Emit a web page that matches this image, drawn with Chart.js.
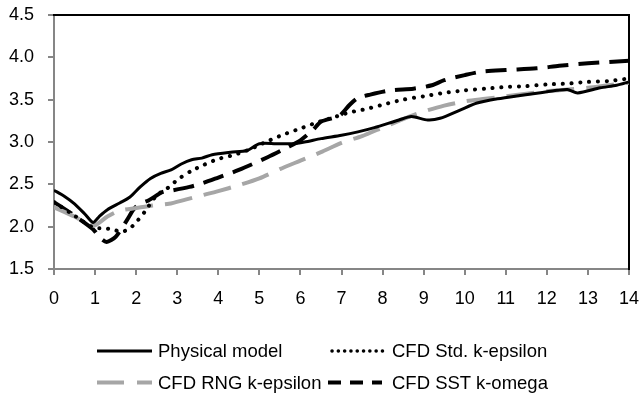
<!DOCTYPE html>
<html><head><meta charset="utf-8">
<script src="https://cdn.jsdelivr.net/npm/chart.js@4"></script>
<style>
html,body{margin:0;padding:0;background:#fff;}
#wrap{position:relative;width:640px;height:394px;overflow:hidden;background:#fff;}
#c{position:absolute;left:0;top:0;}
#lgsvg{position:absolute;left:0;top:0;}
.lg{position:absolute;font-family:"Liberation Sans",Arial,sans-serif;font-size:18.5px;line-height:22px;color:#000;white-space:nowrap;}
</style></head><body>
<div id="wrap">
<canvas id="c" width="640" height="320"></canvas>
<svg id="lgsvg" width="640" height="394"></svg>
</div>
<script>
const seriesNames = ["Physical model", "CFD Std. k-epsilon", "CFD RNG k-epsilon", "CFD SST k-omega"];

const physX = [0,0.25,0.5,0.75,0.95,1.1,1.3,1.6,1.85,2.1,2.35,2.6,2.85,3.1,3.35,3.6,3.85,4.3,4.7,5.0,5.4,5.8,6.1,6.5,7.0,7.4,7.8,8.4,8.7,9.1,9.4,9.9,10.3,10.8,11.35,11.8,12.25,12.5,12.75,13.3,13.7,14];
const physY = [2.43,2.36,2.27,2.15,2.05,2.12,2.2,2.28,2.35,2.47,2.57,2.63,2.67,2.74,2.79,2.81,2.85,2.88,2.9,2.98,2.98,2.98,3.0,3.04,3.08,3.12,3.17,3.26,3.3,3.26,3.28,3.38,3.46,3.51,3.55,3.58,3.61,3.62,3.58,3.64,3.67,3.71];

const stdX = [0,0.5,0.95,1.2,1.4,1.65,1.85,2.05,2.2,2.5,2.75,3.05,3.35,3.65,4.0,4.4,4.8,5.2,5.6,6.0,6.4,6.8,7.2,7.6,8.0,8.5,9.0,9.5,10,10.5,11,11.5,12,12.5,13,13.5,14];
const stdY = [2.29,2.13,1.99,1.98,1.97,1.94,1.98,2.08,2.17,2.37,2.45,2.57,2.66,2.73,2.8,2.85,2.92,3.01,3.09,3.16,3.23,3.29,3.35,3.39,3.44,3.5,3.54,3.58,3.61,3.63,3.65,3.66,3.68,3.69,3.71,3.72,3.75];

const rngX = [0,0.5,0.95,1.3,1.6,2.0,2.4,2.8,3.2,3.6,4.0,4.5,5.0,5.5,6.0,6.5,7.0,7.5,8.0,8.5,9.0,9.5,10.0,10.5,11,11.5,12,12.5,13,13.5,14];
const rngY = [2.23,2.12,2.01,2.12,2.19,2.22,2.25,2.27,2.32,2.37,2.42,2.49,2.57,2.68,2.78,2.88,2.99,3.07,3.17,3.27,3.36,3.43,3.48,3.51,3.54,3.57,3.6,3.62,3.64,3.67,3.7];

const sstX = [0,0.5,0.95,1.12,1.28,1.5,1.78,1.93,2.05,2.3,2.65,2.9,3.3,3.6,4.0,4.5,5.2,5.7,6.0,6.3,6.5,6.95,7.2,7.4,7.7,8.2,8.75,9.2,9.5,10.0,10.4,11.0,11.75,12.3,13,14];
const sstY = [2.29,2.13,1.97,1.87,1.82,1.88,2.08,2.2,2.26,2.31,2.41,2.43,2.47,2.51,2.58,2.67,2.82,2.94,3.02,3.14,3.24,3.31,3.44,3.52,3.56,3.61,3.63,3.67,3.73,3.79,3.83,3.85,3.87,3.9,3.93,3.96];

const xTickMin = 0, xTickMax = 14, xTickStep = 1;
const yTickMin = 1.5, yTickMax = 4.5, yTickStep = 0.5;

const styles = [
  {color:"#000000", width:3, dash:[], cap:"butt"},
  {color:"#000000", width:4, dash:[0.1,8.7], cap:"round"},
  {color:"#a6a6a6", width:4, dash:[28,12], cap:"butt"},
  {color:"#000000", width:4, dash:[21,10], cap:"butt"}
];
const xs = [physX, stdX, rngX, sstX];
const ys = [physY, stdY, rngY, sstY];

const datasets = seriesNames.map((name, i) => ({
  label: name,
  data: xs[i].map((x, j) => ({x: x, y: ys[i][j]})),
  borderColor: styles[i].color,
  borderWidth: styles[i].width,
  borderDash: styles[i].dash,
  borderCapStyle: styles[i].cap,
  borderJoinStyle: "round",
  pointRadius: 0,
  tension: 0.25,
  fill: false
}));

const tickFont = {family: "'Liberation Sans', Arial, sans-serif", size: 18};
const CH = 320, PLOT_BOTTOM = 269;
const zeroPad = s => { s.paddingTop = 0; s.paddingBottom = 0; s.paddingLeft = 0; s.paddingRight = 0; };

new Chart(document.getElementById("c"), {
  type: "line",
  data: {datasets},
  options: {
    responsive: false,
    animation: false,
    devicePixelRatio: 1,
    layout: {padding: {left: 0, right: 11, top: 15, bottom: 0}},
    plugins: {legend: {display: false}, tooltip: {enabled: false}},
    scales: {
      x: {
        type: "linear", position: "bottom", min: xTickMin, max: xTickMax,
        ticks: {stepSize: xTickStep, color: "#000", font: tickFont, padding: 13, maxRotation: 0, autoSkip: false},
        grid: {display: true, drawOnChartArea: false, drawTicks: true, tickLength: 6, color: "#868686", lineWidth: 2},
        border: {display: true, color: "#868686", width: 2},
        afterFit: s => { s.height = CH - PLOT_BOTTOM; zeroPad(s); }
      },
      y: {
        type: "linear", position: "left", min: yTickMin, max: yTickMax,
        ticks: {stepSize: yTickStep, color: "#000", font: tickFont, padding: 14, callback: v => Number(v).toFixed(1)},
        grid: {display: true, drawOnChartArea: false, drawTicks: true, tickLength: 6, color: "#868686", lineWidth: 2},
        border: {display: true, color: "#868686", width: 2},
        afterFit: s => { s.width = 54; zeroPad(s); }
      },
      xTop: {
        type: "linear", position: "top", min: xTickMin, max: xTickMax,
        ticks: {display: false}, grid: {display: false, drawTicks: false, tickLength: 0},
        border: {display: true, color: "#000", width: 2},
        afterFit: s => { s.height = 0; zeroPad(s); }
      },
      yRight: {
        type: "linear", position: "right", min: yTickMin, max: yTickMax,
        ticks: {display: false}, grid: {display: false, drawTicks: false, tickLength: 0},
        border: {display: true, color: "#000", width: 2},
        afterFit: s => { s.width = 0; zeroPad(s); }
      }
    }
  }
});

// HTML legend (2 x 2 grid like the original)
const lgPos = [
  {lx1: 97, lx2: 152, y: 351, tx: 158},
  {lx1: 332, lx2: 383, y: 351, tx: 392},
  {lx1: 97, lx2: 152, y: 382.5, tx: 158},
  {lx1: 328, lx2: 382, y: 382.5, tx: 392}
];
const legendDash = [[], [0.1, 6.2], [27, 13], [13, 9]];
const legendWidth = [3, 3.5, 4, 4];
const svg = document.getElementById("lgsvg");
const wrap = document.getElementById("wrap");
seriesNames.forEach((name, i) => {
  const p = lgPos[i], st = styles[i];
  const ln = document.createElementNS("http://www.w3.org/2000/svg", "line");
  ln.setAttribute("x1", p.lx1); ln.setAttribute("x2", p.lx2);
  ln.setAttribute("y1", p.y); ln.setAttribute("y2", p.y);
  ln.setAttribute("stroke", st.color);
  ln.setAttribute("stroke-width", legendWidth[i]);
  ln.setAttribute("stroke-linecap", st.cap);
  if (legendDash[i].length) ln.setAttribute("stroke-dasharray", legendDash[i].join(" "));
  svg.appendChild(ln);
  const d = document.createElement("div");
  d.className = "lg";
  d.textContent = name;
  d.style.left = p.tx + "px";
  d.style.top = (p.y - 10.8) + "px";
  wrap.appendChild(d);
});
</script>
</body></html>
